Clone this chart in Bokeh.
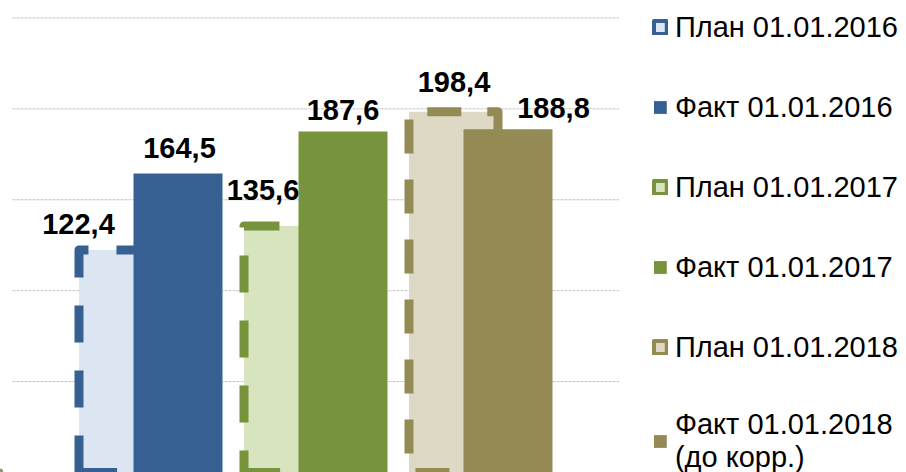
import numpy as np
from bokeh.plotting import figure
from bokeh.core.properties import value
from bokeh.models import (Range1d, ColumnDataSource, LabelSet, Legend, LegendItem)
from bokeh.embed import file_html
from bokeh.resources import INLINE

# ---- data ----
years = ["2016", "2017", "2018"]
plan_values = [122.4, 135.6, 198.4]
fact_values = [164.5, 187.6, 188.8]
plan_names = ["План 01.01.2016", "План 01.01.2017", "План 01.01.2018"]
fact_names = ["Факт 01.01.2016", "Факт 01.01.2017", "Факт 01.01.2018\n(до корр.)"]
grid_values = [50, 100, 150, 200, 250]

# ---- style / layout ----
fact_colors = ["#376092", "#77933C", "#948A54"]
plan_fills = ["#DCE6F2", "#D7E4BD", "#DDD9C4"]
plan_dash = ["37 28", "37 28", "34 26"]
plan_dash_offset = [0, 15, 41]
plan_label_dx = [-45, -25.5, 0.5]
plan_label_dy = [16, 26, 19.5]
fact_label_dx = [1.5, 0, 45.5]
fact_label_dy = [15, 11.5, 11]
FONT = "Liberation Sans"

group = np.arange(len(years))
bar_w = 89 / 165
shift = 27.25 / 165
plan_x = group - shift
fact_x = group + shift
plot_pad = 0.838          # plot-area margin (in group units) beyond outer groups

p = figure(width=906, height=472, output_backend="svg", toolbar_location=None,
           x_range=Range1d(-0.9106, 4.5803), y_range=Range1d(0, 259.6),
           x_axis_location=None, y_axis_location=None,
           min_border=0)
p.outline_line_color = None
p.background_fill_color = "white"
p.grid.visible = False

# horizontal gridlines limited to the plot area
gx0 = group[0] - plot_pad
gx1 = group[-1] + plot_pad
p.segment(x0=[gx0] * len(grid_values), x1=[gx1] * len(grid_values),
          y0=grid_values, y1=grid_values,
          line_color="#c4c4c4", line_dash="3 1", line_width=1)

items = []
for i in range(len(years)):
    v = plan_values[i]
    p.vbar(x=[plan_x[i]], top=[v], bottom=0, width=bar_w,
           fill_color=plan_fills[i], line_color=None)
    l = plan_x[i] - bar_w / 2
    r = plan_x[i] + bar_w / 2
    src = ColumnDataSource(dict(x=[l, l, r, r, l], y=[0, v, v, 0, 0]))
    p.line("x", "y", source=src, line_color=fact_colors[i], line_width=9,
           line_dash=plan_dash[i], line_dash_offset=plan_dash_offset[i],
           line_join="round", line_cap="butt")
    fr = p.vbar(x=[fact_x[i]], top=[fact_values[i]], bottom=0, width=bar_w,
                fill_color=fact_colors[i], line_color=None)
    # legend-only icon renderer (kept outside the visible x range)
    icon = p.vbar(x=[-10], top=[1], bottom=0, width=bar_w,
                  fill_color=plan_fills[i], line_color=fact_colors[i], line_width=4,
                  line_join="round")
    items.append(LegendItem(label=plan_names[i], renderers=[icon]))
    items.append(LegendItem(label=fact_names[i], renderers=[fr]))

fmt = lambda v: f"{v:.1f}".replace(".", ",")
lab_src = ColumnDataSource(dict(
    x=list(plan_x) + list(fact_x),
    y=plan_values + fact_values,
    text=[fmt(v) for v in plan_values + fact_values],
    dx=plan_label_dx + fact_label_dx,
    dy=plan_label_dy + fact_label_dy,
))
labels = LabelSet(x="x", y="y", text="text", source=lab_src, x_offset="dx", y_offset="dy",
                  text_align="center", text_baseline="alphabetic",
                  text_font=value(FONT), text_font_style="bold", text_font_size="29px",
                  text_color="black")
p.add_layout(labels)

legend = Legend(items=items, location="top_right", orientation="vertical",
                glyph_width=16, glyph_height=16, label_standoff=7,
                label_text_font=FONT, label_text_font_size="29px", label_text_color="black",
                label_text_line_height=1.05,
                label_height=38, spacing=42, padding=0, margin=8,
                border_line_color=None, background_fill_alpha=0)
p.add_layout(legend)

open("out.html", "w").write(file_html(p, INLINE))
